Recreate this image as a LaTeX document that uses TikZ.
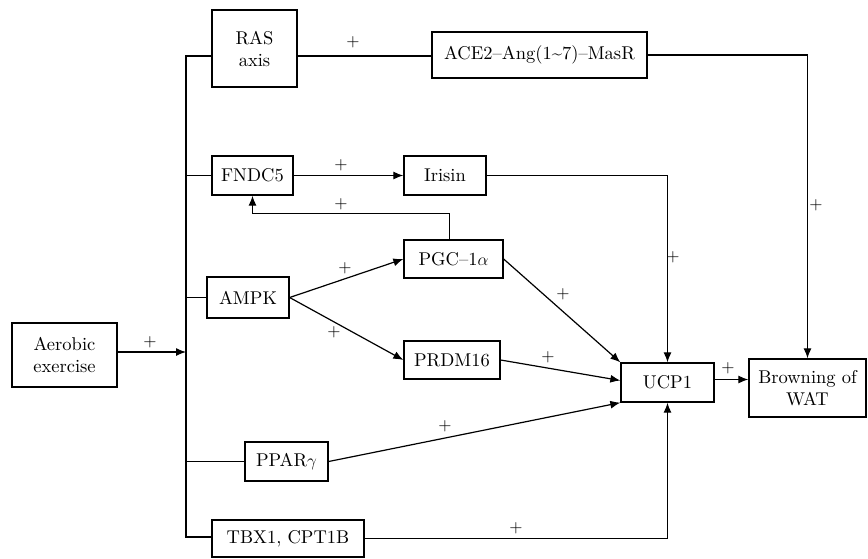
\documentclass[tikz,border=0pt]{standalone}
\usepackage{fontspec}
\setmainfont{Latin Modern Roman}[OpticalSize=10]
\usetikzlibrary{arrows.meta}
\begin{document}
\begin{tikzpicture}[x=1pt,y=-1pt,
  box/.style={draw,line width=1.3pt,inner sep=0pt,align=center,font=\fontsize{18.5}{22}\selectfont},
  con/.style={line width=1.2pt},
  arr/.style={con,-{Latex[length=10pt,width=8pt]}},
  plus/.style={inner sep=0pt,font=\fontsize{17}{20}\selectfont}]
\useasboundingbox (0,0) rectangle (868,558);
% boxes
\node[box,minimum width=105pt,minimum height=64pt] (aer) at (64.5,355) {Aerobic\\exercise};
\node[box,minimum width=85pt,minimum height=77pt] (ras) at (254.5,48.5) {RAS\\axis};
\node[box,minimum width=215pt,minimum height=46pt] (ace) at (539.5,55) {ACE2--Ang(1\textasciitilde7)--MasR};
\node[box,minimum width=81pt,minimum height=39pt] (fndc) at (252.5,175.5) {FNDC5};
\node[box,minimum width=82pt,minimum height=39pt] (iris) at (445,175.5) {Irisin};
\node[box,minimum width=99pt,minimum height=38pt] (pgc) at (453.5,259) {PGC--1$\alpha$};
\node[box,minimum width=82pt,minimum height=41pt] (ampk) at (248,297.5) {AMPK};
\node[box,minimum width=96pt,minimum height=38pt] (prdm) at (452,360) {PRDM16};
\node[box,minimum width=93pt,minimum height=39pt] (ucp) at (667.5,382.5) {UCP1};
\node[box,minimum width=117pt,minimum height=58pt] (brown) at (807.5,388) {Browning of\\WAT};
\node[box,minimum width=83pt,minimum height=39pt] (ppar) at (286.5,461.5) {PPAR$\gamma$};
\node[box,minimum width=152pt,minimum height=37pt] (tbx) at (288,538.5) {TBX1, CPT1B};
% bus
\coordinate (bust) at (186,56);
\coordinate (busb) at (186,537);
\draw[con] (ras.west |- bust) -- (bust) -- (busb) -- (tbx.west |- busb);
\draw[con] (bust |- fndc.west) -- (fndc.west);
\draw[con] (bust |- ampk.west) -- (ampk.west);
\draw[con] (bust |- ppar.west) -- (ppar.west);
\draw[arr] ([yshift=3pt]aer.east) -- ([yshift=3pt]aer.east -| bust);
% connectors
\draw[con] (ras.east |- bust) -- (ace.west |- bust);
\draw[arr] (ace.east) -| (brown.north);
\draw[arr] (fndc.east) -- (iris.west);
\draw[arr] (iris.east) -| (ucp.north);
\draw[arr] ([xshift=-4pt]pgc.north) -- ++(0,26pt) -| (fndc.south);
\draw[arr] (ampk.east) -- (pgc.west);
\draw[arr] (ampk.east) -- (prdm.west);
\draw[arr] (pgc.east) -- (ucp.north west);
\draw[arr] (prdm.east) -- ([yshift=2pt]ucp.west);
\draw[arr] (ppar.east) -- (ucp.south west);
\draw[arr] (tbx.east) -| (ucp.south);
\draw[arr] ([yshift=3pt]ucp.east) -- ([yshift=3pt]ucp.east -| brown.west);
% plus signs
\node[plus] (p1) at (353,42) {+};
\node[plus] (p2) at (341,165) {+};
\node[plus] (p3) at (341,204) {+};
\node[plus] (p4) at (345,268) {+};
\node[plus] (p5) at (334,332) {+};
\node[plus] (p6) at (150,342) {+};
\node[plus] (p7) at (816,205) {+};
\node[plus] (p8) at (673,257) {+};
\node[plus] (p9) at (563,294) {+};
\node[plus] (p10) at (548,357) {+};
\node[plus] (p11) at (445,426) {+};
\node[plus] (p12) at (516,528) {+};
\node[plus] (p13) at (728,368) {+};
\end{tikzpicture}
\end{document}
